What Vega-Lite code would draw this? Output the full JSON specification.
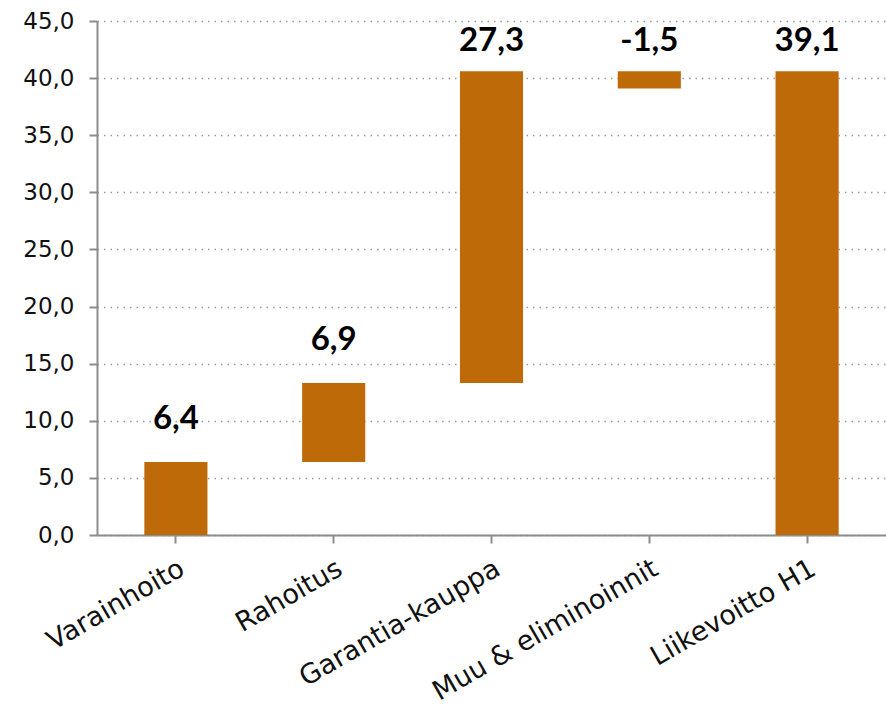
{
  "$schema": "https://vega.github.io/schema/vega-lite/v6.json",
  "width": 789,
  "height": 514,
  "autosize": {"type": "none"},
  "padding": {"left": 97, "top": 21, "right": 0, "bottom": 189},
  "background": "white",
  "config": {
    "view": {"stroke": null},
    "locale": {"number": {"decimal": ",", "thousands": " ", "grouping": [3], "currency": ["", " €"]}},
    "axisX": {
      "labelAngle": -30,
      "labelAlign": "right",
      "labelBaseline": "top",
      "labelFont": "DejaVu Sans",
      "labelFontSize": 27,
      "labelColor": "#111111",
      "labelPadding": 12,
      "labelLimit": 400,
      "domainColor": "#8c8c8c",
      "domainWidth": 2,
      "tickColor": "#8c8c8c",
      "tickWidth": 2,
      "tickSize": 8,
      "tickOffset": -78.9,
      "grid": false
    },
    "axisY": {
      "labelFont": "DejaVu Sans",
      "labelFontSize": 23,
      "labelColor": "#111111",
      "labelPadding": 15,
      "tickSize": 8,
      "tickColor": "#8c8c8c",
      "tickWidth": 2,
      "domainColor": "#8c8c8c",
      "domainWidth": 2,
      "grid": true,
      "gridColor": "#9a9a9a",
      "gridDash": [1.5, 5],
      "gridWidth": 1.5
    }
  },
  "data": {
    "values": [
      {"kategoria": "Varainhoito", "alku": 0, "loppu": 6.4, "yla": 6.4, "arvo": "6,4"},
      {"kategoria": "Rahoitus", "alku": 6.4, "loppu": 13.3, "yla": 13.3, "arvo": "6,9"},
      {"kategoria": "Garantia-kauppa", "alku": 13.3, "loppu": 40.6, "yla": 40.6, "arvo": "27,3"},
      {"kategoria": "Muu & eliminoinnit", "alku": 40.6, "loppu": 39.1, "yla": 40.6, "arvo": "-1,5"},
      {"kategoria": "Liikevoitto H1", "alku": 0, "loppu": 40.6, "yla": 40.6, "arvo": "39,1"}
    ]
  },
  "encoding": {
    "x": {
      "field": "kategoria",
      "type": "nominal",
      "sort": null,
      "title": null,
      "scale": {"paddingInner": 0.6, "paddingOuter": 0.3}
    }
  },
  "layer": [
    {
      "mark": {"type": "bar", "color": "#BE6A08"},
      "encoding": {
        "y": {
          "field": "alku",
          "type": "quantitative",
          "title": null,
          "scale": {"domain": [0, 45], "nice": false},
          "axis": {
            "values": [0, 5, 10, 15, 20, 25, 30, 35, 40, 45],
            "format": ".1f"
          }
        },
        "y2": {"field": "loppu"}
      }
    },
    {
      "transform": [{"filter": "datum.yla < 30"}],
      "mark": {"type": "text", "font": "Lato", "fontWeight": "bold", "fontSize": 33, "color": "#000000", "baseline": "middle", "dy": -43},
      "encoding": {
        "y": {"field": "yla", "type": "quantitative"},
        "text": {"field": "arvo"}
      }
    },
    {
      "transform": [{"filter": "datum.yla >= 30"}],
      "mark": {"type": "text", "font": "Lato", "fontWeight": "bold", "fontSize": 33, "color": "#000000", "baseline": "middle", "dy": -30},
      "encoding": {
        "y": {"field": "yla", "type": "quantitative"},
        "text": {"field": "arvo"}
      }
    }
  ]
}
